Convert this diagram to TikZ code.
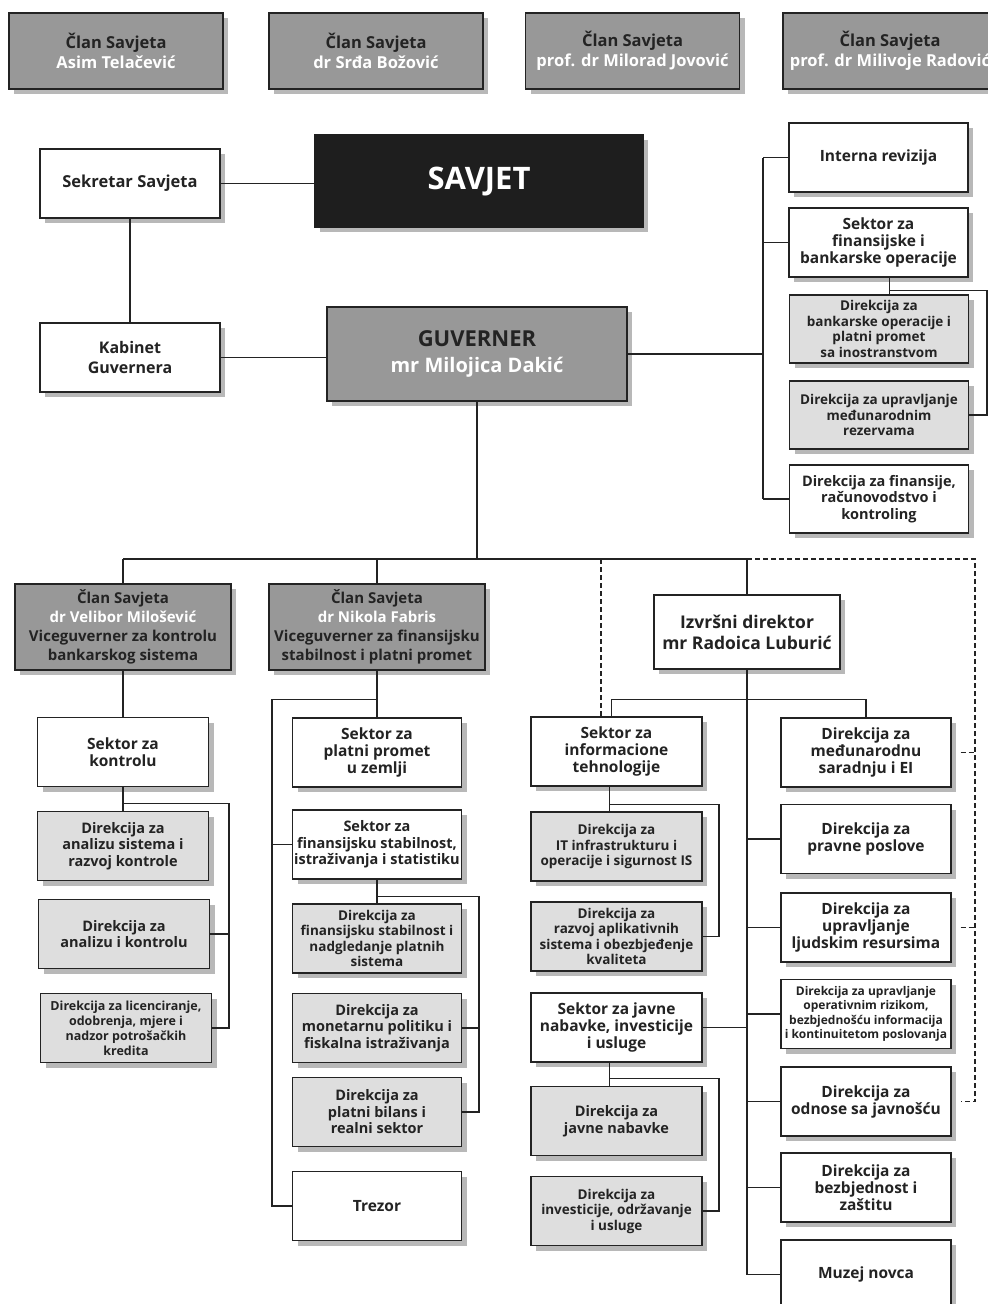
\documentclass[tikz,border=0pt]{standalone}
\usepackage{fontspec}
\setmainfont{Open Sans}
\usetikzlibrary{shadows,calc}
\definecolor{inkgray}{RGB}{35,35,35}
\definecolor{clangray}{RGB}{152,152,152}
\definecolor{dirgray}{RGB}{222,222,222}
\definecolor{savjetblack}{RGB}{30,30,30}
\tikzset{
  orgbox/.style={draw=inkgray, line width=1.2pt, fill=white, align=center, inner sep=0pt,
    text=inkgray, font=\fontsize{15.5}{17}\selectfont\bfseries,
    minimum width=171pt, minimum height=69pt,
    drop shadow={shadow xshift=5pt, shadow yshift=-5pt, fill=black!28, opacity=1}},
  dirbox/.style={orgbox, fill=dirgray},
  clanbox/.style={orgbox, fill=clangray, minimum width=214pt, minimum height=76pt},
  midtxt/.style={font=\fontsize{14.5}{16.5}\selectfont\bfseries},
  smalltxt/.style={font=\fontsize{13.5}{15.5}\selectfont\bfseries},
  tinytxt/.style={font=\fontsize{12.5}{15}\selectfont\bfseries},
  link/.style={draw=inkgray, line width=1.6pt},
  sublink/.style={draw=inkgray, line width=1.1pt},
  dashlink/.style={draw=inkgray, line width=1.1pt, dash pattern=on 5pt off 3pt}
}
\begin{document}
\begin{tikzpicture}[x=1pt, y=-1pt]
  \path[use as bounding box, fill=white] (0,0) rectangle (988,1304);
  \clip (0,0) rectangle (988,1304);

  % clanovi savjeta
  \foreach \i/\x/\ime in {1/116/{Asim Telačević}, 2/376/{dr Srđa Božović},
      3/632.5/{prof. dr Milorad Jovović}, 4/890/{prof. dr Milivoje Radović}} {
    \node[clanbox, font=\fontsize{16.5}{20}\selectfont\bfseries] (clan\i) at (\x,51)
      {Član Savjeta\\\textcolor{white}{\ime}};
  }

  % savjet i guverner
  \node[orgbox, fill=savjetblack, draw=savjetblack, text=white, minimum width=328pt,
    minimum height=92pt, text depth=6pt, font=\fontsize{31}{36}\selectfont\bfseries] (savjet) at (479,181) {SAVJET};
  \node[orgbox, minimum width=180pt, font=\fontsize{16.5}{17}\selectfont\bfseries] (sek) at (130,183.5) {Sekretar Savjeta};
  \node[orgbox, minimum width=180pt, font=\fontsize{16}{20}\selectfont\bfseries] (kab) at (130,357.5) {Kabinet\\Guvernera};
  \node[clanbox, minimum width=300pt, minimum height=94pt, font=\fontsize{22}{26}\selectfont\bfseries]
    (guv) at (477,354) {GUVERNER\\\textcolor{white}{\fontsize{20}{26}\selectfont mr Milojica Dakić}};

  \draw[link] (sek.east) -- (sek.east -| savjet.west);
  \draw[link] (sek.south) -- (kab.north);
  \draw[link] (kab.east) -- (kab.east -| guv.west);

  % desna kolona uz guvernera
  \node[orgbox, minimum width=179pt] (ir) at (878.5,157.5) {Interna revizija};
  \node[orgbox, minimum width=179pt] (sfb) at (878.5,242.5) {Sektor za\\finansijske i\\bankarske operacije};
  \node[dirbox, smalltxt, minimum width=179pt, minimum height=68pt] (dbo) at (879,329)
    {Direkcija za\\bankarske operacije i\\platni promet\\sa inostranstvom};
  \node[dirbox, smalltxt, minimum width=179pt, minimum height=68pt] (dur) at (879,415)
    {Direkcija za upravljanje\\međunarodnim\\rezervama};
  \node[orgbox, midtxt, minimum width=179pt, minimum height=68pt] (dfr) at (879,499)
    {Direkcija za finansije,\\računovodstvo i\\kontroling};

  \coordinate (rb) at (763,0);
  \coordinate (rbx) at (987,0);
  \draw[link] (guv.east) -- (guv.east -| rb);
  \draw[link] (ir.west -| rb) -- (dfr.west -| rb);
  \foreach \n in {ir,sfb,dfr} \draw[link] (\n.west -| rb) -- (\n.west);
  \draw[sublink] ([xshift=11pt]sfb.south) -- ([xshift=11pt]sfb.south |- dbo.north);
  \draw[sublink] ([xshift=11pt]sfb.south) ++(0,13) -| (dur.east -| rbx) -- (dur.east);

  % viceguverneri i izvrsni direktor
  \node[clanbox, minimum width=216pt, minimum height=86pt, font=\fontsize{15}{19}\selectfont\bfseries]
    (vg1) at (123,627) {Član Savjeta\\\textcolor{white}{dr Velibor Milošević}\\Viceguverner za kontrolu\\bankarskog sistema};
  \node[clanbox, minimum width=216pt, minimum height=86pt, font=\fontsize{15}{19}\selectfont\bfseries]
    (vg2) at (377,627) {Član Savjeta\\\textcolor{white}{dr Nikola Fabris}\\Viceguverner za finansijsku\\stabilnost i platni promet};
  \node[orgbox, minimum width=186pt, minimum height=74pt, font=\fontsize{17.5}{21}\selectfont\bfseries]
    (izv) at (747,632) {Izvršni direktor\\mr Radoica Luburić};

  \coordinate (hb) at (0,559);
  \coordinate (db) at (975,0);
  \coordinate (dv) at (601,0);
  \draw[link] (guv.south) -- (guv.south |- hb);
  \draw[link] (vg1.north |- hb) -- (izv.north |- hb);
  \foreach \n in {vg1,vg2,izv} \draw[link] (\n.north |- hb) -- (\n.north);

  % kontrola
  \node[orgbox] (sk) at (123,752) {Sektor za\\kontrolu};
  \node[dirbox, midtxt] (d11) at (123,846) {Direkcija za\\analizu sistema i\\razvoj kontrole};
  \node[dirbox, midtxt] (d12) at (124,934) {Direkcija za\\analizu i kontrolu};
  \node[dirbox, tinytxt] (d13) at (126,1028) {Direkcija za licenciranje,\\odobrenja, mjere i\\nadzor potrošačkih\\kredita};

  \coordinate (lbx) at (229,0);
  \draw[link] (vg1.south) -- (sk.north);
  \draw[sublink] (sk.south) -- (d11.north);
  \draw[sublink] (sk.south) ++(0,16) -| (d13.east -| lbx) -- (d13.east);
  \draw[sublink] (d12.east) -- (d12.east -| lbx);

  % finansijska stabilnost i platni promet
  \node[orgbox, minimum width=169pt] (spp) at (377,752.5) {Sektor za\\platni promet\\u zemlji};
  \node[orgbox, midtxt, minimum width=169pt] (sfs) at (377,844.5) {Sektor za\\finansijsku stabilnost,\\istraživanja i statistiku};
  \node[dirbox, smalltxt, minimum width=169pt] (d21) at (377,938.5) {Direkcija za\\finansijsku stabilnost i\\nadgledanje platnih\\sistema};
  \node[dirbox, midtxt, minimum width=169pt] (d22) at (377,1028) {Direkcija za\\monetarnu politiku i\\fiskalna istraživanja};
  \node[dirbox, midtxt, minimum width=169pt] (d23) at (377,1112) {Direkcija za\\platni bilans i\\realni sektor};
  \node[orgbox, minimum width=169pt] (trez) at (377,1206) {Trezor};

  \coordinate (mb) at (272,0);
  \coordinate (mbx) at (479,0);
  \draw[link] (vg2.south) -- (spp.north);
  \draw[link] (spp.north) ++(0,-18) -| (trez.west -| mb) -- (trez.west);
  \draw[link] (sfs.west -| mb) -- (sfs.west);
  \draw[sublink] (sfs.south) -- (d21.north);
  \draw[sublink] (sfs.south) ++(0,17) -| (d23.east -| mbx) -- (d23.east);
  \draw[sublink] (d22.east) -- (d22.east -| mbx);

  % informacione tehnologije i javne nabavke
  \node[orgbox] (sit) at (616.5,751.5) {Sektor za\\informacione\\tehnologije};
  \node[dirbox, smalltxt] (d31) at (616.5,846.5) {Direkcija za\\IT infrastrukturu i\\operacije i sigurnost IS};
  \node[dirbox, smalltxt] (d32) at (616.5,936.5) {Direkcija za\\razvoj aplikativnih\\sistema i obezbjeđenje\\kvaliteta};
  \node[orgbox] (sjn) at (616.5,1027.5) {Sektor za javne\\nabavke, investicije\\i usluge};
  \node[dirbox, midtxt] (d33) at (616.5,1121) {Direkcija za\\javne nabavke};
  \node[dirbox, smalltxt] (d34) at (616.5,1211) {Direkcija za\\investicije, održavanje\\i usluge};

  \coordinate (ibx) at (719,0);
  \draw[sublink] ([xshift=-7pt]sit.south) -- ([xshift=-7pt]sit.south |- d31.north);
  \draw[sublink] ([xshift=-7pt]sit.south) ++(0,18) -| (d32.east -| ibx) -- (d32.east);
  \draw[sublink] ([xshift=-7pt]sjn.south) -- ([xshift=-7pt]sjn.south |- d33.north);
  \draw[sublink] ([xshift=-7pt]sjn.south) ++(0,16) -| (d34.east -| ibx) -- (d34.east);

  % direkcije izvrsnog direktora
  \node[orgbox, minimum width=170pt] (dms) at (866,752.5) {Direkcija za\\međunarodnu\\saradnju i EI};
  \node[orgbox, minimum width=170pt] (dpp) at (866,839) {Direkcija za\\pravne poslove};
  \node[orgbox, minimum width=170pt] (dlr) at (866,927.5) {Direkcija za\\upravljanje\\ljudskim resursima};
  \node[orgbox, minimum width=170pt, font=\fontsize{12}{14.5}\selectfont\bfseries] (dor) at (866,1014)
    {Direkcija za upravljanje\\operativnim rizikom,\\bezbjednošću informacija\\i kontinuitetom poslovanja};
  \node[orgbox, minimum width=170pt] (doj) at (866,1101.5) {Direkcija za\\odnose sa javnošću};
  \node[orgbox, minimum width=170pt] (dbz) at (866,1187.5) {Direkcija za\\bezbjednost i\\zaštitu};
  \node[orgbox, minimum width=170pt] (muz) at (866,1274.5) {Muzej novca};

  \draw[link] (izv.south) -- (izv.south |- muz.west) -- (muz.west);
  \draw[link] ([xshift=-5pt]sit.north) -- ++(0,-17) -| (dms.north);
  \foreach \n in {dpp,dlr,dor,doj,dbz} \draw[link] (\n.west -| izv.south) -- (\n.west);
  \draw[link] (sjn.east) -- (sjn.east -| izv.south);

  % isprekidane veze
  \draw[dashlink] (dv |- hb) -- (dv |- sit.north);
  \draw[dashlink] (izv.north |- hb) -| (doj.east -| db) -- ([xshift=9pt]doj.east);
  \foreach \n in {dms,dlr} \draw[dashlink] ([xshift=9pt]\n.east) -- (\n.east -| db);
\end{tikzpicture}
\end{document}
